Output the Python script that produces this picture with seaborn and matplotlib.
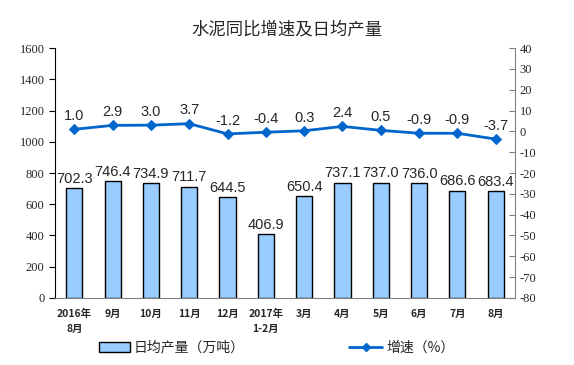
import pandas as pd
import numpy as np
import matplotlib
matplotlib.use("Agg")
from matplotlib import pyplot as plt
from matplotlib.lines import Line2D
from matplotlib.patches import Patch
import seaborn as sns

# data
months = ['2016年\n8月', '9月', '10月', '11月', '12月', '2017年\n1-2月',
          '3月', '4月', '5月', '6月', '7月', '8月']
output = [702.3, 746.4, 734.9, 711.7, 644.5, 406.9, 650.4, 737.1, 737.0, 736.0, 686.6, 683.4]
growth = [1.0, 2.9, 3.0, 3.7, -1.2, -0.4, 0.3, 2.4, 0.5, -0.9, -0.9, -3.7]

sns.set_style('white')
plt.rcParams['font.family'] = ['Noto Sans CJK SC', 'DejaVu Sans']
plt.rcParams['axes.unicode_minus'] = False

df = pd.DataFrame({'month': months, 'output': output, 'growth': growth})
df['pos'] = np.arange(len(df))

fig = plt.figure(figsize=(5.74, 3.65), dpi=100)
ax = fig.add_axes([0.096, 0.184, 0.801, 0.684])

sns.barplot(data=df, x='month', y='output', color='#99CCFF', width=0.42,
            edgecolor='black', linewidth=1.0, saturation=1, ax=ax)
ax.set_ylim(0, 1600)
ax.set_yticks(range(0, 1601, 200))
ax.set_xlim(-0.5, len(df) - 0.5)
ax.set_xlabel('')
ax.set_ylabel('')
for i, v in enumerate(output):
    ax.text(i, v + 15, f'{v:.1f}', ha='center', va='bottom', fontsize=10.5,
            family='Liberation Sans')

ax2 = ax.twinx()
sns.lineplot(data=df, x='pos', y='growth', color='#0066CC', linewidth=2,
             marker='D', markersize=5, markeredgecolor='#0066CC', ax=ax2)
ax2.set_ylim(-80, 40)
ax2.set_yticks(range(-80, 41, 10))
ax2.set_xlim(-0.5, len(df) - 0.5)
ax2.set_xlabel('')
ax2.set_ylabel('')
for i, v in enumerate(growth):
    ax2.text(i, v + 3, f'{v:.1f}', ha='center', va='bottom', fontsize=10.5,
             family='Liberation Sans')

# x ticks between categories, labels at centers
ax.set_xticks(np.arange(len(df)))
ax.set_xticklabels(months, fontsize=7.5, fontweight='bold', linespacing=1.6)
ax.set_xticks(np.arange(-0.5, len(df), 1), minor=True)
ax.tick_params(axis='x', which='major', length=0, pad=8)
ax.tick_params(axis='x', which='minor', length=4, direction='in', color='#808080')
ax.tick_params(axis='y', length=4, direction='out', color='black')
ax2.tick_params(axis='y', length=4, direction='in', color='#808080')
for lab in ax.get_yticklabels() + ax2.get_yticklabels():
    lab.set_family('Liberation Serif')
    lab.set_fontsize(9)

for sp in ['top']:
    ax.spines[sp].set_visible(False)
    ax2.spines[sp].set_visible(False)
ax.spines['bottom'].set_color('#808080')
ax.spines['left'].set_color('black')
ax2.spines['right'].set_color('#808080')
ax2.spines['left'].set_visible(False)
ax.spines['right'].set_visible(False)
ax2.spines['bottom'].set_visible(False)

fig.text(0.5, 0.918, '水泥同比增速及日均产量', ha='center', va='center', fontsize=12.5)

handles = [Patch(facecolor='#99CCFF', edgecolor='black', label='日均产量（万吨）'),
           Line2D([0], [0], color='#0066CC', lw=2, marker='D', markersize=4.5, label='增速（%）')]
fig.legend(handles=[handles[0]], loc='center', bbox_to_anchor=(0.3, 0.047), frameon=False,
           fontsize=10, handlelength=2.2, handleheight=0.7, handletextpad=0.3)
fig.legend(handles=[handles[1]], loc='center', bbox_to_anchor=(0.7, 0.047), frameon=False,
           fontsize=10, handlelength=2.4, handletextpad=0.3)

fig.savefig('out.png', dpi=100)
